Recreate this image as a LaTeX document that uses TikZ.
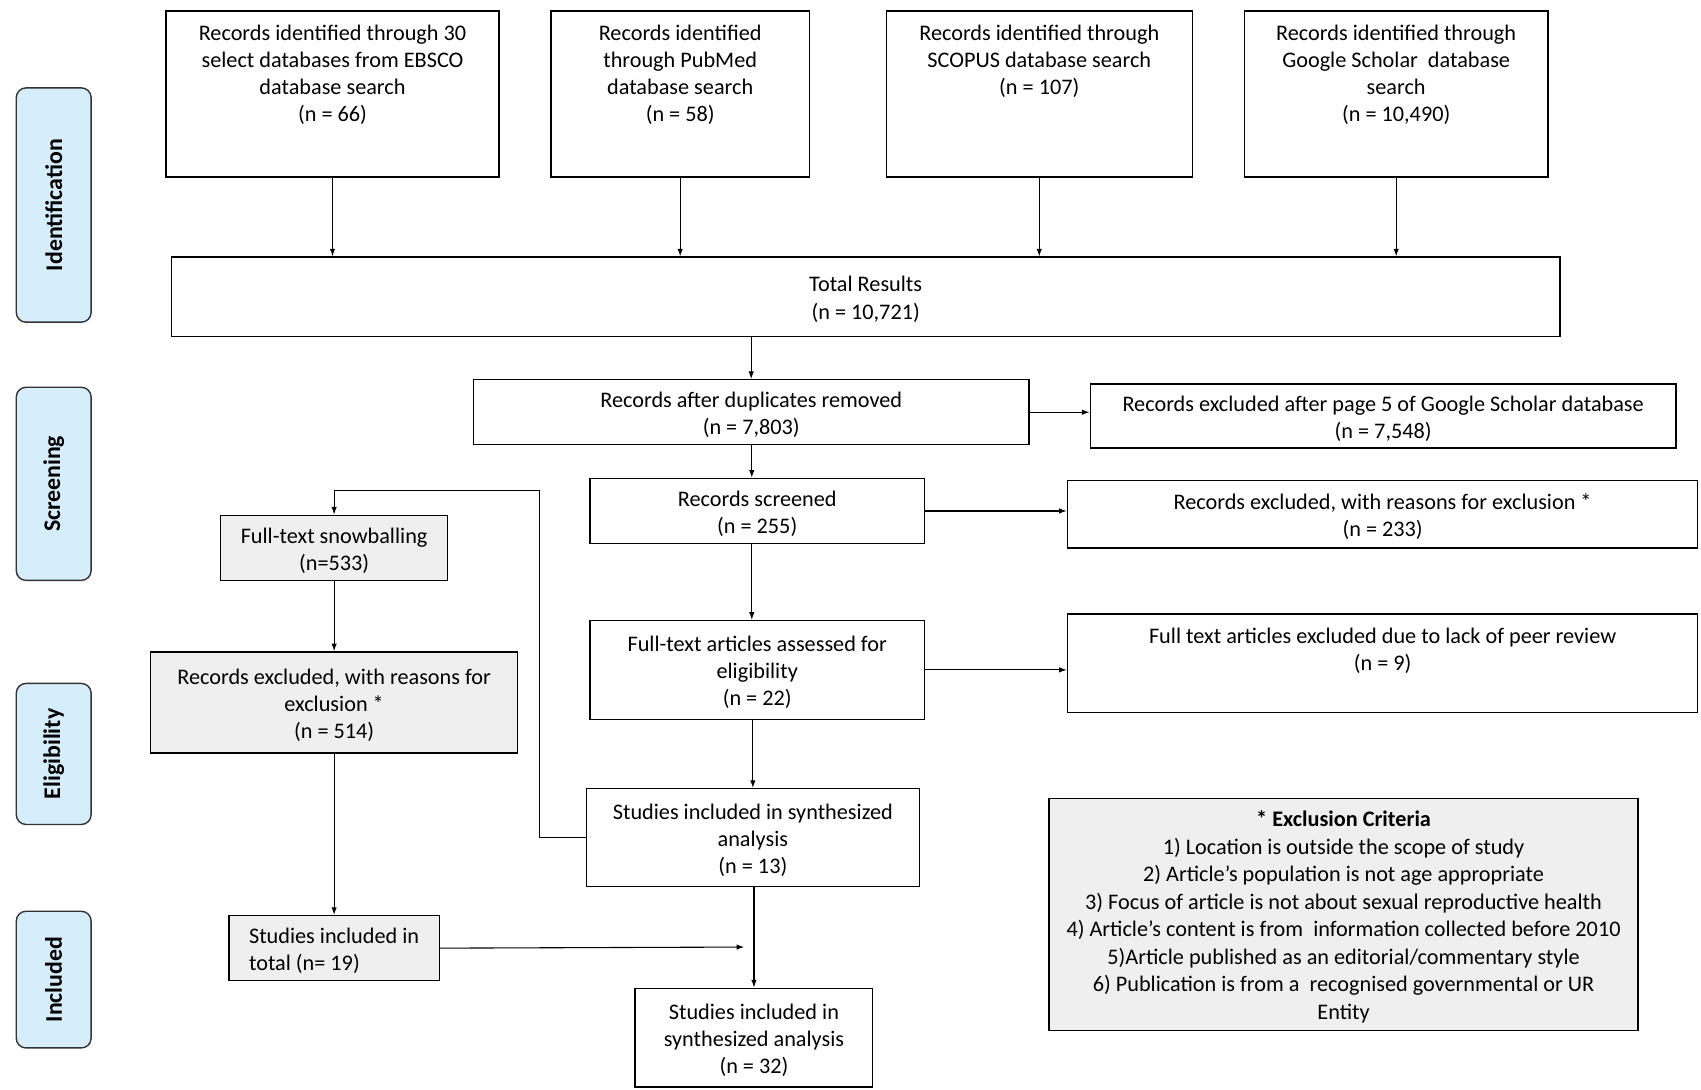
\documentclass[tikz,border=0pt]{standalone}
\usepackage{fontspec}
\setmainfont{Carlito}
\usetikzlibrary{arrows.meta,calc}
\definecolor{stagefill}{RGB}{214,237,251}
\definecolor{grayfill}{RGB}{239,239,239}
\newcommand{\tstrut}{\rule{0pt}{19pt}}
\begin{document}
\begin{tikzpicture}[x=1pt,y=-1pt,
  every node/.style={font=\fontsize{20.5}{25}\selectfont},
  box/.style={draw=black, line width=1.3pt, align=center, inner sep=2pt},
  gbox/.style={box, fill=grayfill},
  stage/.style={draw=black!80, line width=1.3pt, rounded corners=9pt, fill=stagefill, minimum height=69pt, rotate=90, font=\fontsize{22}{25}\selectfont\bfseries},
  arr/.style={line width=1pt, -{Latex[length=7pt,width=5pt]}},
  toplbl/.style={anchor=north, yshift=-10pt, align=center}
]
\useasboundingbox (0,0) rectangle (1568,1004);

% stage labels
\node[stage, minimum width=216pt] (sid) at (49.5,189) {Identification};
\node[stage, minimum width=178pt] (ssc) at (49.5,446) {Screening};
\node[stage, minimum width=130pt] (sel) at (49.5,695) {Eligibility};
\node[stage, minimum width=126pt] (sin) at (49.5,903) {Included};

% identification boxes
\node[box, minimum width=307pt, minimum height=153pt,
  label={[toplbl]north:{Records identified through 30\\select databases from EBSCO\\database search\\(n = 66)}}] (ebsco) at (306.5,86.5) {};
\node[box, minimum width=238pt, minimum height=153pt,
  label={[toplbl]north:{Records identified\\through PubMed\\database search\\(n = 58)}}] (pubmed) at (627,86.5) {};
\node[box, minimum width=282pt, minimum height=153pt,
  label={[toplbl]north:{Records identified through\\SCOPUS database search\\(n = 107)}}] (scopus) at (958,86.5) {};
\node[box, minimum width=280pt, minimum height=153pt,
  label={[toplbl]north:{Records identified through\\Google Scholar\ \ database\\search\\(n = 10,490)}}] (google) at (1287,86.5) {};

\node[box, minimum width=1280pt, minimum height=73pt] (total) at (798,273.5) {\tstrut Total Results\\(n = 10,721)};

% screening
\node[box, minimum width=512pt, minimum height=60pt] (dup) at (692.5,380) {\tstrut Records after duplicates removed\\(n = 7,803)};
\node[box, minimum width=540pt, minimum height=59pt] (ex5) at (1275,383.5) {\tstrut Records excluded after page 5 of Google Scholar database\\(n = 7,548)};
\node[box, minimum width=308pt, minimum height=60pt] (scr) at (698,471) {\tstrut Records screened\\(n = 255)};
\node[box, minimum width=581pt, minimum height=62pt] (exr) at (1274.5,474) {\tstrut Records excluded, with reasons for exclusion *\\(n = 233)};

% eligibility
\node[box, minimum width=308pt, minimum height=91pt] (ft) at (698,617.5) {\tstrut Full-text articles assessed for\\eligibility\\(n = 22)};
\node[box, minimum width=581pt, minimum height=91pt,
  label={[toplbl]north:{Full text articles excluded due to lack of peer review\\(n = 9)}}] (peer) at (1274.5,611.5) {};
\node[box, minimum width=307pt, minimum height=90pt] (s13) at (694,772) {\tstrut Studies included in synthesized\\analysis\\(n = 13)};

% left branch
\node[gbox, minimum width=209pt, minimum height=60pt] (snow) at (308,505) {\tstrut Full-text snowballing\\(n=533)};
\node[gbox, minimum width=338pt, minimum height=93pt] (rex) at (308,647.5) {\tstrut Records excluded, with reasons for\\exclusion *\\(n = 514)};
\node[gbox, minimum width=194pt, minimum height=60pt, align=left] (tot19) at (308,874) {\tstrut Studies included in\\total (n= 19)};

% included
\node[box, minimum width=219pt, minimum height=91pt] (s32) at (695,956.5) {\tstrut Studies included in\\synthesized analysis\\(n = 32)};

% exclusion criteria
\node[gbox, minimum width=543pt, minimum height=214pt, font=\fontsize{20.5}{25.4}\selectfont] (crit) at (1238.5,843) {\tstrut{\bfseries * Exclusion Criteria}\\1) Location is outside the scope of study\\2) Article’s population is not age appropriate\\3) Focus of article is not about sexual reproductive health\\4) Article’s content is from\ \ information collected before 2010\\5)Article published as an editorial/commentary style\\6) Publication is from a\ \ recognised governmental or UR\\Entity};

% connectors
\foreach \b in {ebsco,pubmed,scopus,google}
  \draw[arr] (\b.south) -- (\b.south |- total.north);
\draw[arr] (total.south -| dup.north) -- (dup.north);
\draw[arr] (dup.east) -- (dup.east -| ex5.west);
\draw[arr] (dup.south -| scr.north) ++(-5,0) coordinate (dsx) (dup.south -| dsx) -- (scr.north -| dsx);
\draw[arr] (scr.east) -- (scr.east -| exr.west);
\draw[arr] (scr.south -| dsx) -- (ft.north -| dsx);
\draw[arr] (ft.east) -- (ft.east -| peer.west);
\draw[arr] (ft.south -| s13.north) -- (s13.north);
\coordinate (loopTR) at (497,452);
\draw[arr] (s13.west) -| (loopTR) -| (snow.north);
\draw[arr] (snow.south) -- (rex.north);
\draw[arr] (rex.south) -- (tot19.north);
\draw[arr] (s13.south -| s32.north) -- (s32.north);
\coordinate (join) at (686,873);
\draw[arr] (tot19.east) -- (join);
\end{tikzpicture}
\end{document}
